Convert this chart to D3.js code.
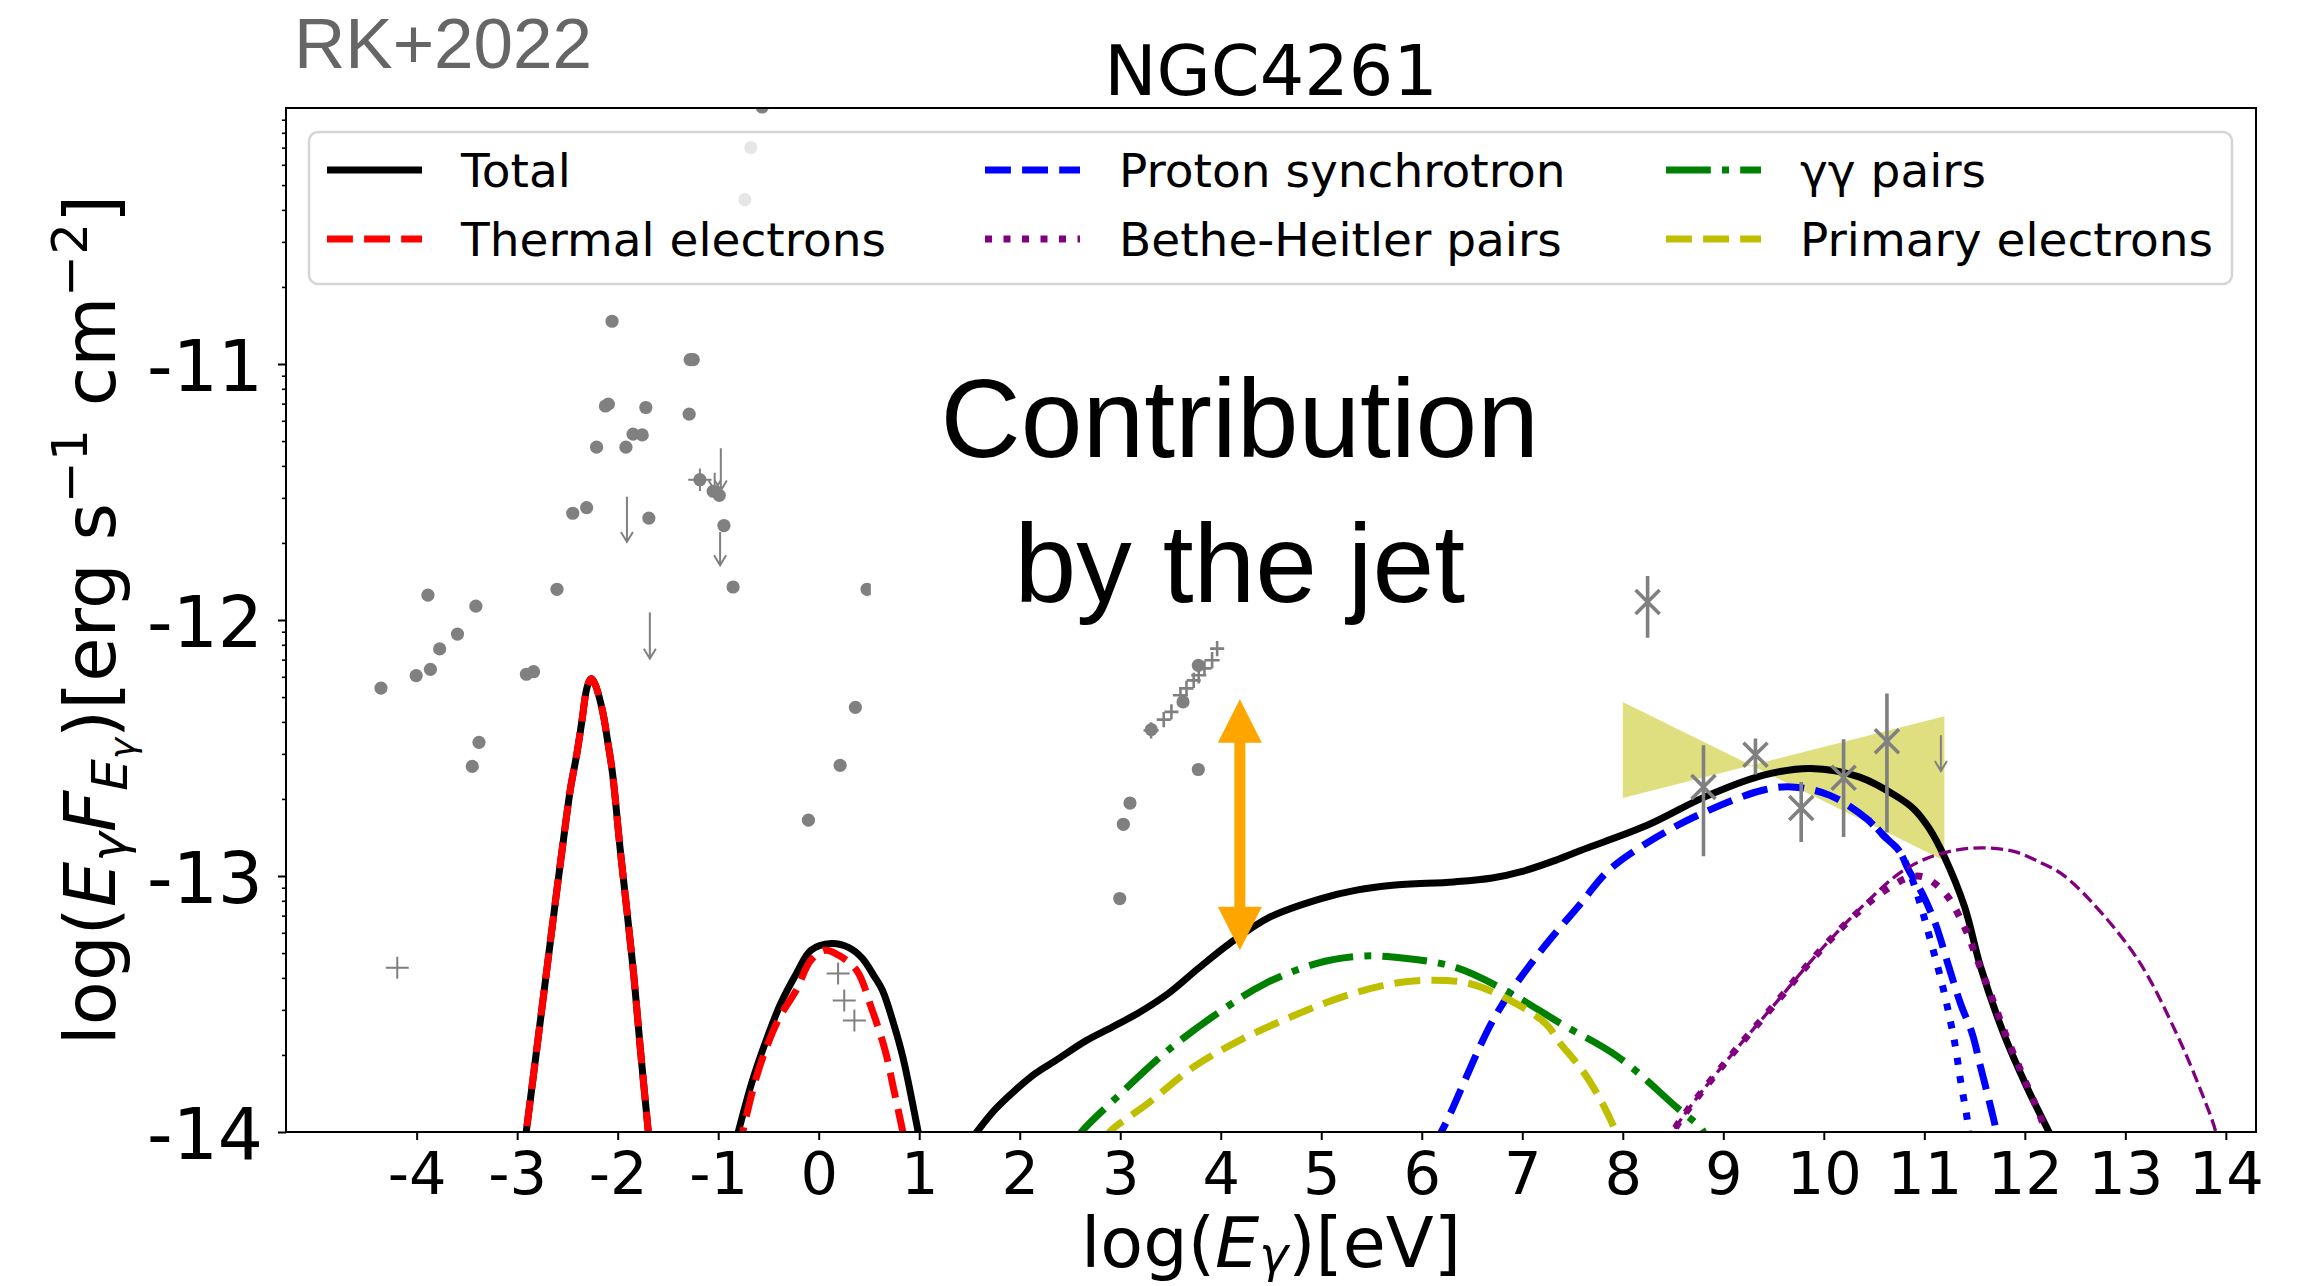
<!DOCTYPE html>
<html>
<head>
<meta charset="utf-8">
<script src="https://cdn.jsdelivr.net/npm/d3@7"></script>
<style>
  body { margin: 0; background: #fff; }
  svg { display: block; }
  text { font-family: "DejaVu Sans", sans-serif; }
</style>
</head>
<body>
<svg id="chart" width="2315" height="1286"></svg>
<script>
// all values are [log10(E/eV), log10(E F_E / erg s^-1 cm^-2)]

// model curves
var thermalPeak1 = [[-2.95,-14.12],[-2.91,-14.0],[-2.80,-13.66],[-2.70,-13.35],[-2.60,-13.04],[-2.52,-12.80],
  [-2.467,-12.652],[-2.406,-12.522],[-2.355,-12.392],[-2.304,-12.262],[-2.264,-12.229],[-2.228,-12.248],
  [-2.152,-12.353],[-2.101,-12.47],[-2.051,-12.60],[-1.974,-12.90],[-1.847,-13.36],[-1.771,-13.69],
  [-1.695,-14.0],[-1.67,-14.1]];
var thermalPeak2 = [[-0.80,-14.08],[-0.756,-14.0],[-0.60,-13.76],[-0.40,-13.56],[-0.223,-13.446],[-0.08,-13.33],
  [0.066,-13.29],[0.20,-13.31],[0.38,-13.37],[0.52,-13.51],[0.66,-13.68],[0.75,-13.84],[0.837,-14.0],[0.86,-14.05]];
var totalPeak2 = [[-0.85,-14.08],[-0.80,-14.0],[-0.66,-13.80],[-0.53,-13.65],[-0.38,-13.50],[-0.22,-13.38],
  [-0.077,-13.29],[0.126,-13.264],[0.30,-13.28],[0.43,-13.32],[0.55,-13.39],[0.634,-13.446],[0.74,-13.57],
  [0.837,-13.707],[0.99,-14.0],[1.02,-14.06]];
var totalMain = [[1.50,-14.04],[1.573,-14.0],[1.76,-13.91],[1.954,-13.837],[2.16,-13.77],[2.36,-13.72],
  [2.665,-13.642],[2.92,-13.59],[3.172,-13.537],[3.478,-13.459],[3.78,-13.36],[4.087,-13.264],[4.492,-13.16],
  [4.999,-13.088],[5.35,-13.055],[5.71,-13.036],[6.32,-13.023],[6.7,-13.008],[7.0,-12.982],[7.3,-12.943],
  [7.58,-12.90],[8.243,-12.802],[8.817,-12.691],[9.392,-12.607],[9.872,-12.58],[10.35,-12.613],[10.733,-12.691],
  [10.90,-12.74],[11.05,-12.815],[11.2,-12.925],[11.40,-13.12],[11.56,-13.355],[11.79,-13.616],
  [12.02,-13.824],[12.24,-14.0],[12.30,-14.05]];
var protonSync = [[6.10,-14.05],[6.193,-14.0],[6.726,-13.551],[7.15,-13.31],[7.58,-13.108],[7.86,-12.978],
  [8.338,-12.848],[8.817,-12.75],[9.392,-12.665],[9.68,-12.652],[10.06,-12.685],[10.445,-12.782],
  [10.61,-12.848],[10.746,-12.9],[10.846,-12.978],[10.98,-13.069],[11.11,-13.186],[11.244,-13.355],
  [11.36,-13.498],[11.477,-13.616],[11.56,-13.746],[11.66,-13.902],[11.71,-13.987],[11.73,-14.05]];
var protonSyncAlt = [[10.445,-12.782],[10.61,-12.848],[10.746,-12.9],[10.846,-12.978],[10.96,-13.11],
  [11.06,-13.25],[11.16,-13.395],[11.244,-13.538],[11.31,-13.668],[11.36,-13.798],[11.433,-13.967],[11.45,-14.05]];
var betheHeitler = [[8.45,-14.05],[8.53,-13.98],[9.01,-13.733],[9.488,-13.512],[9.967,-13.29],[10.36,-13.134],
  [10.66,-13.043],[10.86,-13.004],[11.0,-13.005],[11.21,-13.069],[11.4,-13.2],[11.53,-13.33],[11.67,-13.473],
  [11.83,-13.64],[12.0,-13.798],[12.19,-13.98],[12.22,-14.05]];
var betheHeitlerAlt = [[8.45,-14.05],[8.53,-13.98],[9.01,-13.733],[9.488,-13.512],[9.967,-13.29],[10.445,-13.095],
  [10.75,-12.99],[11.0,-12.935],[11.3,-12.9],[11.6,-12.89],[11.9,-12.905],[12.17,-12.95],[12.36,-12.99],
  [12.65,-13.095],[13.13,-13.33],[13.51,-13.616],[13.75,-13.837],[13.895,-13.993],[13.92,-14.05]];
var ggPairs = [[2.55,-14.04],[2.614,-14.0],[2.969,-13.863],[3.478,-13.68],[4.036,-13.518],[4.442,-13.42],
  [4.949,-13.342],[5.355,-13.314],[5.71,-13.316],[6.32,-13.355],[6.828,-13.446],[7.386,-13.577],
  [7.955,-13.707],[8.53,-13.902],[8.793,-13.993],[8.82,-14.03]];
var primaryElec = [[2.85,-14.03],[2.894,-14.0],[3.274,-13.889],[3.731,-13.746],[4.188,-13.642],[4.695,-13.551],
  [5.203,-13.473],[5.71,-13.42],[6.117,-13.407],[6.473,-13.42],[6.879,-13.486],[7.234,-13.577],
  [7.38,-13.655],[7.60,-13.76],[7.80,-13.89],[7.93,-14.0],[7.95,-14.03]];

// observations
var obsPoints = [[-2.056,-10.833],[-1.279,-10.983],[-1.248,-10.983],[-2.122,-11.164],[-2.093,-11.157],[-1.720,-11.170],
  [-1.289,-11.196],[-1.847,-11.274],[-1.756,-11.277],[-2.210,-11.325],[-1.918,-11.325],[-1.050,-11.497],
  [-0.989,-11.513],[-2.447,-11.583],[-2.309,-11.561],[-1.690,-11.602],[-0.943,-11.631],[-0.852,-11.871],
  [-2.604,-11.880],[-3.888,-11.903],[-3.411,-11.946],[-3.594,-12.055],[-3.771,-12.113],[-3.863,-12.193],
  [-4.005,-12.217],[-4.355,-12.266],[-2.908,-12.212],[-2.837,-12.202],[-3.380,-12.478],[-3.447,-12.572],
  [0.365,-12.341],[0.213,-12.568],[-0.102,-12.782],[3.097,-12.715],[3.031,-12.798],[3.777,-12.584],
  [3.309,-12.428],[3.625,-12.320],[3.777,-12.177],[2.995,-13.088],[0.481,-11.880],
  [-0.675,-10.155],[-0.735,-10.358],[-0.563,-9.996]];
var obsErrPoint = [-1.182, -11.452, 0.116, 0.044];   // x, y, xerr, yerr
var upperLimits = [[-1.035,-11.425,-11.494],[-0.974,-11.329,-11.494],[-1.908,-11.519,-11.695],
  [-0.981,-11.656,-11.786],[-1.680,-11.971,-12.151],[11.165,-12.45,-12.59]];
var plusPoints = [[-4.193,-13.358],[0.193,-13.381],[0.254,-13.486],[0.355,-13.564]];
var xrayX = [3.307, 3.433, 3.509, 3.599, 3.659, 3.731, 3.781, 3.838, 3.914, 3.964];
var xrayY = [-12.431, -12.389, -12.359, -12.294, -12.267, -12.236, -12.216, -12.189, -12.157, -12.112];
var xrayXerr = [0.075, 0.07, 0.07, 0.075, 0.07, 0.07, 0.075, 0.07, 0.075, 0.07];
var xrayYerr = [0.032, 0.03, 0.03, 0.032, 0.03, 0.03, 0.032, 0.03, 0.032, 0.03];
var gammaX = [8.247, 8.803, 9.320, 9.775, 10.197, 10.628];
var gammaY = [-11.930, -12.652, -12.526, -12.734, -12.616, -12.474];
var gammaLo = [-12.069, -12.923, -12.604, -12.867, -12.848, -12.830];
var gammaHi = [-11.828, -12.489, -12.463, -12.633, -12.466, -12.287];
var bowtieX = [8.0, 11.2];
var bowtieUpper = [-12.32, -12.376];
var bowtieLower = [-12.695, -12.94];

// jet contribution arrow
var arrowX = 4.19;
var arrowY = [-13.29, -12.31];

// axes
var xTicks = [-4,-3,-2,-1,0,1,2,3,4,5,6,7,8,9,10,11,12,13,14];
var yTicks = [-14,-13,-12,-11];
var legendLabels = ['Total','Thermal electrons','Proton synchrotron','Bethe-Heitler pairs','\u03b3\u03b3 pairs','Primary electrons'];
var legendKeys = ['total','thermal','proton','bh','gg','primary'];

var styles = {
  total:    {color: '#000000', width: 7, dash: null},
  thermal:  {color: '#ff0000', width: 7, dash: '25.9 11.2'},
  proton:   {color: '#0000ff', width: 7, dash: '25.9 11.2'},
  protonAlt:{color: '#0000ff', width: 7, dash: '7 11.5'},
  bh:       {color: '#800080', width: 7, dash: '7 11.5'},
  bhAlt:    {color: '#800080', width: 3.3, dash: '12.2 5.3'},
  gg:       {color: '#008000', width: 7, dash: '44.8 11.2 7 11.2'},
  primary:  {color: '#bfbf00', width: 7, dash: '25.9 11.2'}
};

var W = 2315, H = 1286;
var margin = {left: 286, top: 108, right: 59, bottom: 154};
var gray = '#808080';

var svg = d3.select('#chart');
var x = d3.scaleLinear().domain([-5.3, 14.3]).range([margin.left, W - margin.right]);
var y = d3.scaleLinear().domain([-14, -10]).range([H - margin.bottom, margin.top]);

svg.append('defs').append('clipPath').attr('id', 'plotclip')
  .append('rect')
  .attr('x', x.range()[0]).attr('y', y.range()[1])
  .attr('width', x.range()[1] - x.range()[0])
  .attr('height', y.range()[0] - y.range()[1]);

var plot = svg.append('g').attr('clip-path', 'url(#plotclip)');

// bowtie
plot.append('path')
  .attr('d', 'M' + x(bowtieX[0]) + ',' + y(bowtieUpper[0]) +
             'L' + x(bowtieX[1]) + ',' + y(bowtieLower[1]) +
             'L' + x(bowtieX[1]) + ',' + y(bowtieUpper[1]) +
             'L' + x(bowtieX[0]) + ',' + y(bowtieLower[0]) + 'Z')
  .attr('fill', '#dfdf80');

var line = d3.line()
  .x(function(d){ return x(d[0]); })
  .y(function(d){ return y(d[1]); })
  .curve(d3.curveCatmullRom.alpha(0.5));

function drawCurve(data, key){
  var s = styles[key];
  plot.append('path')
    .attr('d', line(data))
    .attr('fill', 'none')
    .attr('stroke', s.color)
    .attr('stroke-width', s.width)
    .attr('stroke-dasharray', s.dash)
    .attr('stroke-linejoin', 'round');
}

drawCurve(thermalPeak1, 'total');
drawCurve(totalPeak2, 'total');
drawCurve(totalMain, 'total');
drawCurve(thermalPeak1, 'thermal');
drawCurve(thermalPeak2, 'thermal');
drawCurve(protonSync, 'proton');
drawCurve(protonSyncAlt, 'protonAlt');
drawCurve(betheHeitler, 'bh');
drawCurve(betheHeitlerAlt, 'bhAlt');
drawCurve(ggPairs, 'gg');
drawCurve(primaryElec, 'primary');

// observations
var obs = plot.append('g').attr('stroke', gray).attr('fill', 'none');

obs.selectAll('circle.pt')
  .data(obsPoints)
  .enter()
  .append('circle')
  .attr('class', 'pt')
  .attr('cx', function(d){ return x(d[0]); })
  .attr('cy', function(d){ return y(d[1]); })
  .attr('r', 6.6)
  .attr('fill', gray)
  .attr('stroke', 'none');

obs.append('path')
  .attr('d', 'M' + x(obsErrPoint[0] - obsErrPoint[2]) + ',' + y(obsErrPoint[1]) +
             'H' + x(obsErrPoint[0] + obsErrPoint[2]) +
             'M' + x(obsErrPoint[0]) + ',' + y(obsErrPoint[1] - obsErrPoint[3]) +
             'V' + y(obsErrPoint[1] + obsErrPoint[3]))
  .attr('stroke-width', 2);
obs.append('circle')
  .attr('cx', x(obsErrPoint[0])).attr('cy', y(obsErrPoint[1]))
  .attr('r', 6.6).attr('fill', gray).attr('stroke', 'none');

obs.selectAll('path.ul')
  .data(upperLimits)
  .enter()
  .append('path')
  .attr('class', 'ul')
  .attr('d', function(d){
    var px = x(d[0]), y0 = y(d[1]), y1 = y(d[2]);
    return 'M' + px + ',' + y0 + 'V' + y1 +
           'M' + (px - 6) + ',' + (y1 - 10) + 'L' + px + ',' + y1 + 'L' + (px + 6) + ',' + (y1 - 10);
  })
  .attr('stroke-width', 2);

obs.selectAll('path.plus')
  .data(plusPoints)
  .enter()
  .append('path')
  .attr('class', 'plus')
  .attr('d', function(d){
    var px = x(d[0]), py = y(d[1]);
    return 'M' + (px - 11.5) + ',' + py + 'h23M' + px + ',' + (py - 11) + 'v22';
  })
  .attr('stroke-width', 2);

obs.selectAll('path.xray')
  .data(d3.range(xrayX.length))
  .enter()
  .append('path')
  .attr('class', 'xray')
  .attr('d', function(i){
    return 'M' + x(xrayX[i] - xrayXerr[i]) + ',' + y(xrayY[i]) + 'H' + x(xrayX[i] + xrayXerr[i]) +
           'M' + x(xrayX[i]) + ',' + y(xrayY[i] - xrayYerr[i]) + 'V' + y(xrayY[i] + xrayYerr[i]);
  })
  .attr('stroke-width', 2.6);

obs.selectAll('path.gamma')
  .data(d3.range(gammaX.length))
  .enter()
  .append('path')
  .attr('class', 'gamma')
  .attr('d', function(i){
    var px = x(gammaX[i]), py = y(gammaY[i]), a = 12;
    return 'M' + px + ',' + y(gammaLo[i]) + 'V' + y(gammaHi[i]) +
           'M' + (px - a) + ',' + (py - a) + 'L' + (px + a) + ',' + (py + a) +
           'M' + (px - a) + ',' + (py + a) + 'L' + (px + a) + ',' + (py - a);
  })
  .attr('stroke-width', 3.6);

// orange double arrow
var ax = x(arrowX), aTop = y(arrowY[1]), aBot = y(arrowY[0]);
var hw = 22, hl = 43.5, sw = 5.5;
plot.append('path')
  .attr('d', 'M' + ax + ',' + aTop +
    'L' + (ax + hw) + ',' + (aTop + hl) + 'L' + (ax + sw) + ',' + (aTop + hl) +
    'L' + (ax + sw) + ',' + (aBot - hl) + 'L' + (ax + hw) + ',' + (aBot - hl) +
    'L' + ax + ',' + aBot +
    'L' + (ax - hw) + ',' + (aBot - hl) + 'L' + (ax - sw) + ',' + (aBot - hl) +
    'L' + (ax - sw) + ',' + (aTop + hl) + 'L' + (ax - hw) + ',' + (aTop + hl) + 'Z')
  .attr('fill', '#ffa500');

// annotation with opaque box
plot.append('rect')
  .attr('x', ax - 369).attr('y', 372).attr('width', 738).attr('height', 262)
  .attr('fill', '#ffffff');
var note = svg.append('g')
  .style('font-family', '"Liberation Sans", Arial, sans-serif')
  .style('font-size', '111px')
  .attr('text-anchor', 'middle');
note.append('text').attr('x', ax).attr('y', y(-11.364)).style('font-family', 'inherit').text('Contribution');
note.append('text').attr('x', ax).attr('y', y(-11.93)).style('font-family', 'inherit').text('by the jet');

// axes
var xAxis = svg.append('g')
  .attr('transform', 'translate(0,' + y.range()[0] + ')')
  .call(d3.axisBottom(x).tickValues(xTicks).tickSize(8).tickPadding(12).tickFormat(function(d){ return String(d); }));
xAxis.select('.domain').remove();
xAxis.selectAll('line').attr('stroke-width', 2);
xAxis.selectAll('text').style('font-size', '59px').style('font-family', '"DejaVu Sans"').attr('fill', '#000');

var yAxis = svg.append('g')
  .attr('transform', 'translate(' + x.range()[0] + ',0)')
  .call(d3.axisLeft(y).tickValues(yTicks).tickSize(8).tickPadding(15).tickFormat(function(d){ return String(d); }));
yAxis.select('.domain').remove();
yAxis.selectAll('line').attr('stroke-width', 2);
yAxis.selectAll('text').attr('dy', '0.38em').style('font-size', '71px').style('font-family', '"DejaVu Sans"').attr('fill', '#000');

var minorTicks = [];
yTicks.forEach(function(b){
  if (b >= -10) return;
  d3.range(2, 10).forEach(function(k){ minorTicks.push(b + Math.log10(k)); });
});
var yMinor = svg.append('g')
  .attr('transform', 'translate(' + x.range()[0] + ',0)')
  .call(d3.axisLeft(y).tickValues(minorTicks).tickSize(4).tickFormat(''));
yMinor.select('.domain').remove();
yMinor.selectAll('line').attr('stroke-width', 1.6);

// frame
svg.append('rect')
  .attr('x', x.range()[0]).attr('y', y.range()[1])
  .attr('width', x.range()[1] - x.range()[0])
  .attr('height', y.range()[0] - y.range()[1])
  .attr('fill', 'none').attr('stroke', '#000').attr('stroke-width', 2);

// legend
var lg = svg.append('g');
lg.append('rect')
  .attr('x', 309).attr('y', 132).attr('width', 1923).attr('height', 152).attr('rx', 9)
  .attr('fill', '#ffffff').attr('fill-opacity', 0.8)
  .attr('stroke', '#d5d5d5').attr('stroke-width', 2.5);
var colX = [327, 985, 1666];
var rowY = [170, 239];
legendLabels.forEach(function(lbl, i){
  var c = Math.floor(i / 2), r = i % 2, s = styles[legendKeys[i]];
  lg.append('line')
    .attr('x1', colX[c]).attr('x2', colX[c] + 95)
    .attr('y1', rowY[r]).attr('y2', rowY[r])
    .attr('stroke', s.color).attr('stroke-width', s.width)
    .attr('stroke-dasharray', s.dash);
  lg.append('text')
    .attr('x', colX[c] + 134).attr('y', rowY[r] + 16.5)
    .style('font-size', '47px')
    .text(lbl);
});

// titles and labels
svg.append('text')
  .attr('x', (x.range()[0] + x.range()[1]) / 2).attr('y', 95)
  .attr('text-anchor', 'middle').style('font-size', '70px')
  .text('NGC4261');

svg.append('text')
  .attr('x', 294).attr('y', 68)
  .style('font-family', '"Liberation Sans", Arial, sans-serif')
  .style('font-size', '71px').attr('fill', '#666666')
  .text('RK+2022');

var xl = svg.append('text')
  .attr('x', (x.range()[0] + x.range()[1]) / 2).attr('y', 1267)
  .attr('text-anchor', 'middle').style('font-size', '70px');
xl.append('tspan').text('log(');
xl.append('tspan').attr('font-style', 'italic').text('E');
xl.append('tspan').attr('font-style', 'italic').attr('font-size', '49px').attr('dy', 5).text('\u03b3');
xl.append('tspan').attr('dy', -5).text(')[eV]');

var yl = svg.append('text')
  .attr('transform', 'translate(115,' + ((y.range()[0] + y.range()[1]) / 2) + ') rotate(-90)')
  .attr('text-anchor', 'middle').style('font-size', '72px');
yl.append('tspan').text('log(');
yl.append('tspan').attr('font-style', 'italic').text('E');
yl.append('tspan').attr('font-style', 'italic').attr('font-size', '50px').attr('dy', 11).text('\u03b3');
yl.append('tspan').attr('font-style', 'italic').attr('dy', -11).text('F');
yl.append('tspan').attr('font-style', 'italic').attr('font-size', '50px').attr('dy', 12).text('E');
yl.append('tspan').attr('font-style', 'italic').attr('font-size', '36px').attr('dy', 8).text('\u03b3');
yl.append('tspan').attr('dy', -20).text(')[erg s');
yl.append('tspan').attr('font-size', '50px').attr('dy', -28).text('\u22121');
yl.append('tspan').attr('dy', 28).text(' cm');
yl.append('tspan').attr('font-size', '50px').attr('dy', -28).text('\u22122');
yl.append('tspan').attr('dy', 28).text(']');
</script>
</body>
</html>
